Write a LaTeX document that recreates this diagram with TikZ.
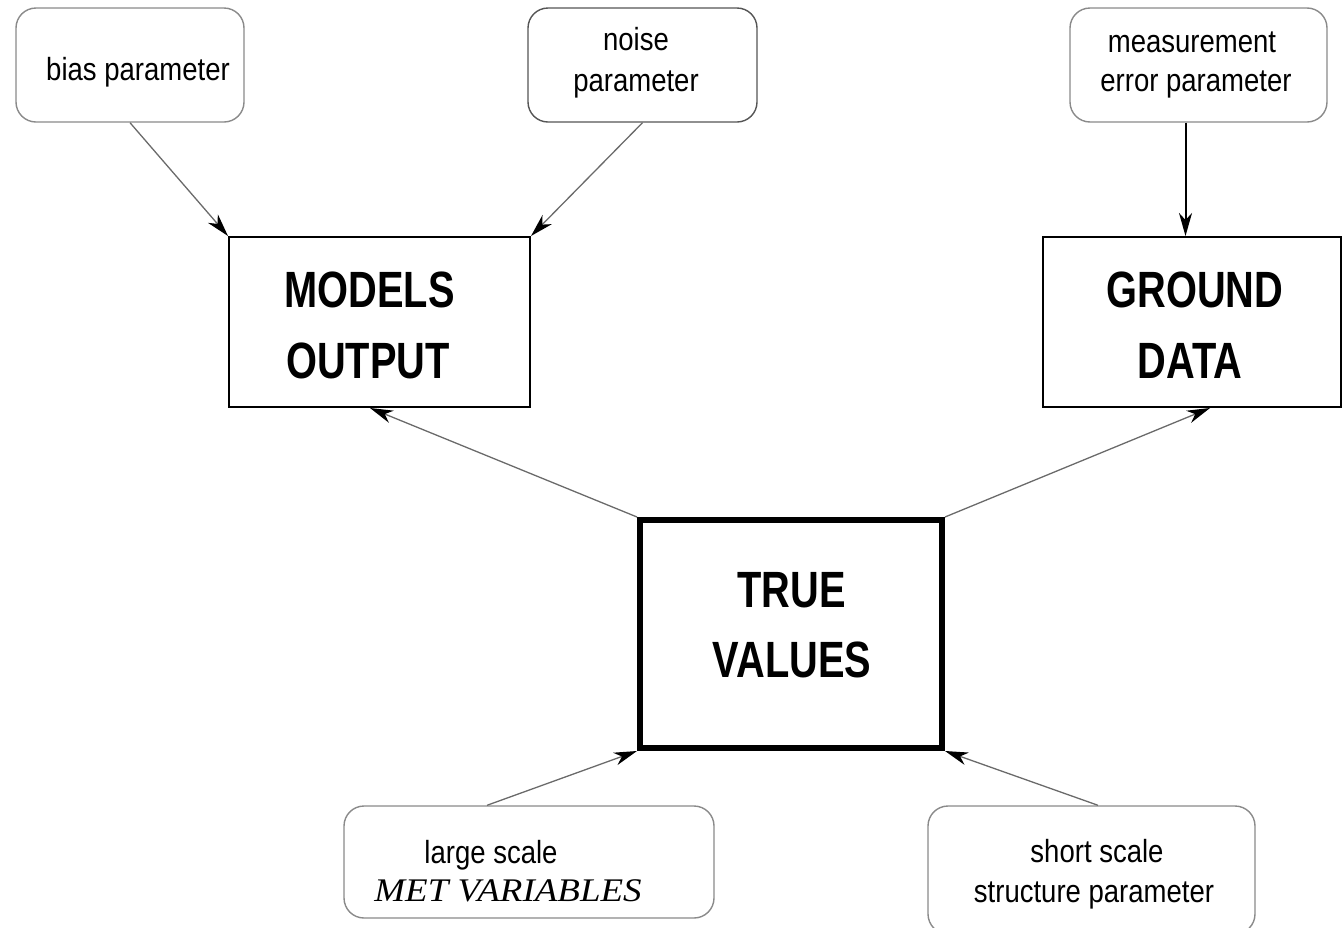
\documentclass[tikz,border=0pt]{standalone}
\usepackage{fontspec}
\usetikzlibrary{arrows.meta}
\newfontfamily\smallf{Liberation Sans}[FakeStretch=0.86]
\newfontfamily\bigf{Liberation Sans}[FakeStretch=0.78]
\newfontfamily\metf{Liberation Serif}[FakeStretch=1.12]
\definecolor{rgray}{HTML}{8A8A8A}
\definecolor{ngray}{HTML}{555555}
\definecolor{agray}{HTML}{6A6A6A}
\begin{document}
\begin{tikzpicture}[x=1pt,y=-1pt,
  parbox/.style={draw=rgray,line width=1.4pt,rounded corners=20pt,inner sep=0pt,fill=white},
  mainbox/.style={draw=black,line width=2pt,inner sep=0pt,fill=white},
  truebox/.style={draw=black,line width=6pt,inner sep=0pt,fill=white},
  smalltxt/.style={anchor=base,inner sep=0pt,font=\smallf\fontsize{32}{38}\selectfont},
  bigtxt/.style={anchor=base,inner sep=0pt,font=\bigf\bfseries\fontsize{51}{60}\selectfont},
  mettxt/.style={anchor=base,inner sep=0pt,font=\metf\itshape\fontsize{33}{40}\selectfont},
  conn/.style={draw=agray,line width=1.3pt,-{Stealth[length=23pt,width=13pt,inset=7pt,color=black]}},
  connb/.style={draw=black,line width=2pt,-{Stealth[length=23pt,width=13pt,inset=7pt]}}
]
\useasboundingbox (0,0) rectangle (1343,927);
% parameter boxes
\node[parbox,minimum width=228pt,minimum height=114pt] (bias) at (130,65) {};
\node[parbox,draw=ngray,minimum width=229pt,minimum height=114pt] (noise) at (642.5,65) {};
\node[parbox,minimum width=257pt,minimum height=114pt] (meas) at (1198.5,65) {};
\node[parbox,minimum width=370pt,minimum height=112pt] (large) at (529,862) {};
\node[parbox,minimum width=327pt,minimum height=128pt] (short) at (1091.5,870) {};
% main boxes
\node[mainbox,minimum width=301pt,minimum height=170pt] (models) at (379.5,322) {};
\node[mainbox,minimum width=298pt,minimum height=170pt] (ground) at (1192,322) {};
\node[truebox,minimum width=302pt,minimum height=228pt] (true) at (791,634) {};
% texts
\node[smalltxt] (biast) at (138,80) {bias parameter};
\node[smalltxt] (noiset1) at (636,50) {noise};
\node[smalltxt] (noiset2) at (636,91) {parameter};
\node[smalltxt] (meast1) at (1192,52) {measurement};
\node[smalltxt] (meast2) at (1196,91) {error parameter};
\node[smalltxt] (larget1) at (491,863) {large scale};
\node[mettxt] (larget2) at (508,901) {MET VARIABLES};
\node[smalltxt] (shortt1) at (1097,862) {short scale};
\node[smalltxt] (shortt2) at (1094,902) {structure parameter};
\node[bigtxt] (modelst1) at (369.5,307) {MODELS};
\node[bigtxt] (modelst2) at (368,378) {OUTPUT};
\node[bigtxt] (groundt1) at (1195,307) {GROUND};
\node[bigtxt] (groundt2) at (1190,378) {DATA};
\node[bigtxt] (truet1) at (791.5,607) {TRUE};
\node[bigtxt] (truet2) at (792,677) {VALUES};
% connectors
\draw[conn] (bias.south) -- (models.north west);
\draw[conn] (noise.south) -- (models.north east);
\draw[connb] ([xshift=-13pt]meas.south) -- ([xshift=-13pt]meas.south |- ground.north);
\draw[conn] (true.north west) -- ([xshift=-9.5pt]models.south);
\draw[conn] (true.north east) -- ([xshift=18pt]ground.south);
\draw[conn] ([xshift=-42pt]large.north) -- (true.south west);
\draw[conn] ([xshift=6.5pt]short.north) -- (true.south east);
\end{tikzpicture}
\end{document}
